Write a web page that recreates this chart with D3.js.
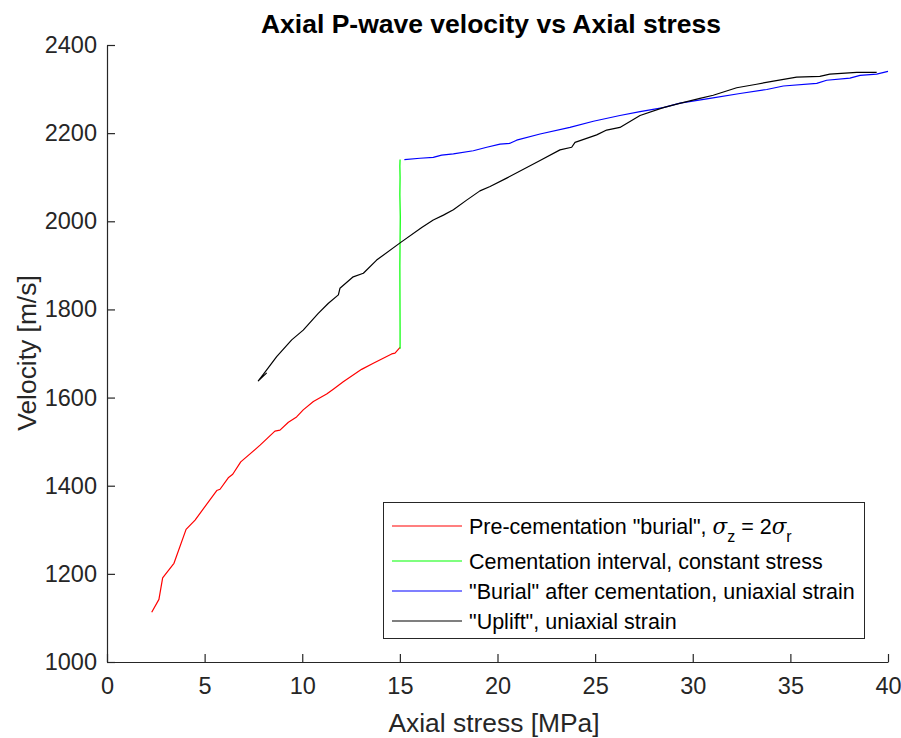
<!DOCTYPE html>
<html>
<head>
<meta charset="utf-8">
<script src="https://cdn.jsdelivr.net/npm/d3@7"></script>
<style>
  html, body { margin: 0; padding: 0; background: #fff; }
  svg { display: block; font-family: "Liberation Sans", Arial, Helvetica, sans-serif; }
</style>
</head>
<body>
<svg id="chart" width="901" height="738"></svg>
<script>
// Axial stress [MPa] / velocity [m/s] for each loading stage
const preCementStress = [2.29, 2.66, 2.85, 3.43, 4.05, 4.51, 5.62, 5.79, 6.21, 6.44, 6.85, 7.84, 8.60, 8.86, 9.29, 9.71, 10.05, 10.57, 11.25, 11.59, 12.10, 13.04, 13.64, 14.58, 14.75, 15.01];
const preCementVel    = [1113, 1142, 1191, 1224, 1301, 1322, 1389, 1392, 1418, 1426, 1454, 1492, 1524, 1526, 1544, 1556, 1572, 1591, 1608, 1619, 1636, 1664, 1678, 1699, 1701, 1714];

const cementStress = [15.01, 15.01, 15.00, 15.02, 15.00, 15.01, 15.00, 15.01];
const cementVel    = [1711, 1760, 1900, 2010, 2060, 2100, 2125, 2140];

const burialStress = [15.23, 16.03, 16.71, 17.14, 17.74, 18.76, 19.45, 20.13, 20.64, 20.98, 22.18, 23.71, 24.91, 26.27, 27.30, 28.49, 29.35, 30.88, 32.42, 33.79, 34.64, 36.35, 36.86, 38.05, 38.57, 39.42, 40.0];
const burialVel    = [2140, 2143, 2145, 2150, 2153, 2160, 2168, 2175, 2177, 2184, 2198, 2213, 2227, 2240, 2249, 2258, 2268, 2279, 2290, 2299, 2307, 2313, 2320, 2325, 2331, 2334, 2340];

const upliftStress = [39.42, 38.40, 37.02, 36.51, 35.32, 34.13, 33.27, 32.25, 31.05, 30.37, 29.18, 28.49, 27.30, 26.27, 25.59, 25.08, 23.97, 23.80, 23.20, 22.18, 20.47, 19.62, 19.10, 18.42, 17.74, 17.23, 16.71, 16.12, 15.01, 13.81, 13.13, 12.61, 11.93, 11.85, 11.34, 10.82, 10.05, 9.46, 8.69, 8.18, 7.75, 8.18];
const upliftVel    = [2338, 2338, 2334, 2329, 2327, 2318, 2311, 2303, 2286, 2279, 2266, 2258, 2240, 2213, 2207, 2196, 2179, 2168, 2162, 2138, 2098, 2079, 2069, 2048, 2026, 2014, 2003, 1986, 1951, 1912, 1882, 1874, 1848, 1833, 1814, 1791, 1753, 1731, 1693, 1663, 1638, 1656];

const xTicks = [0, 5, 10, 15, 20, 25, 30, 35, 40];
const yTicks = [1000, 1200, 1400, 1600, 1800, 2000, 2200, 2400];

const seriesNames  = ["Pre-cementation \"burial\", ", "Cementation interval, constant stress", "\"Burial\" after cementation, uniaxial strain", "\"Uplift\", uniaxial strain"];
const seriesColors = ["#ff0000", "#00ff00", "#0000ff", "#000000"];

const titleText  = "Axial P-wave velocity vs Axial stress";
const xLabelText = "Axial stress [MPa]";
const yLabelText = "Velocity [m/s]";

// ---- layout ----
const axisColor = "#262626";
const plot = { left: 107, right: 888, top: 45, bottom: 662 };

const svg = d3.select("#chart");
const x = d3.scaleLinear().domain([0, 40]).range([plot.left, plot.right]);
const y = d3.scaleLinear().domain([1000, 2400]).range([plot.bottom, plot.top]);

// axes (ticks point inward, no box)
const xAxis = svg.append("g")
  .attr("transform", `translate(0,${plot.bottom})`)
  .call(d3.axisBottom(x).tickValues(xTicks).tickSizeInner(-8).tickSizeOuter(0).tickPadding(15).tickFormat(d3.format("d")));
const yAxis = svg.append("g")
  .attr("transform", `translate(${plot.left},0)`)
  .call(d3.axisLeft(y).tickValues(yTicks).tickSizeInner(-8).tickSizeOuter(0).tickPadding(10).tickFormat(d3.format("d")));

[xAxis, yAxis].forEach(g => {
  g.select(".domain").attr("stroke", axisColor).attr("stroke-width", 1.2);
  g.selectAll(".tick line").attr("stroke", axisColor).attr("stroke-width", 1.2);
  g.selectAll(".tick text").attr("fill", axisColor).attr("font-size", 23.5)
    .attr("font-family", "'Liberation Sans', Arial, sans-serif");
});
xAxis.selectAll(".tick text").attr("dy", "0.71em");

// data lines
const stages = [
  { xs: preCementStress, ys: preCementVel },
  { xs: cementStress, ys: cementVel },
  { xs: burialStress, ys: burialVel },
  { xs: upliftStress, ys: upliftVel }
];
const line = d3.line().x(d => x(d[0])).y(d => y(d[1]));
stages.forEach((s, i) => {
  svg.append("path")
    .datum(s.xs.map((v, k) => [v, s.ys[k]]))
    .attr("d", line)
    .attr("fill", "none")
    .attr("stroke", seriesColors[i])
    .attr("stroke-width", 1.2)
    .attr("stroke-linejoin", "round");
});

// title and axis labels
svg.append("text")
  .attr("x", 491).attr("y", 33)
  .attr("text-anchor", "middle")
  .attr("font-size", 26.5).attr("font-weight", "bold")
  .attr("fill", "#000")
  .text(titleText);

svg.append("text")
  .attr("x", 494).attr("y", 732)
  .attr("text-anchor", "middle")
  .attr("font-size", 26.4)
  .attr("fill", axisColor)
  .text(xLabelText);

svg.append("text")
  .attr("transform", "translate(36,353) rotate(-90)")
  .attr("text-anchor", "middle")
  .attr("font-size", 26.4)
  .attr("fill", axisColor)
  .text(yLabelText);

// legend
const legend = svg.append("g");
legend.append("rect")
  .attr("x", 383.5).attr("y", 502.5)
  .attr("width", 481).attr("height", 136)
  .attr("fill", "#fff").attr("stroke", axisColor).attr("stroke-width", 1);

const rowY = [526, 561, 591, 621];
seriesNames.forEach((name, i) => {
  legend.append("line")
    .attr("x1", 392).attr("x2", 462)
    .attr("y1", rowY[i]).attr("y2", rowY[i])
    .attr("stroke", seriesColors[i]).attr("stroke-width", 1.2);
  const t = legend.append("text")
    .attr("x", 469).attr("y", rowY[i]).attr("dy", "0.35em")
    .attr("font-size", 21.5).attr("fill", "#000");
  t.append("tspan").text(name);
  if (i === 0) {
    t.append("tspan").attr("font-family", "'DejaVu Serif', 'Liberation Serif', serif").attr("font-style", "italic").text("σ");
    t.append("tspan").attr("font-size", 16).attr("dy", 8).text("z");
    t.append("tspan").attr("dy", -8).text(" = 2");
    t.append("tspan").attr("font-family", "'DejaVu Serif', 'Liberation Serif', serif").attr("font-style", "italic").text("σ");
    t.append("tspan").attr("font-size", 16).attr("dy", 8).text("r");
  }
});
</script>
</body>
</html>
